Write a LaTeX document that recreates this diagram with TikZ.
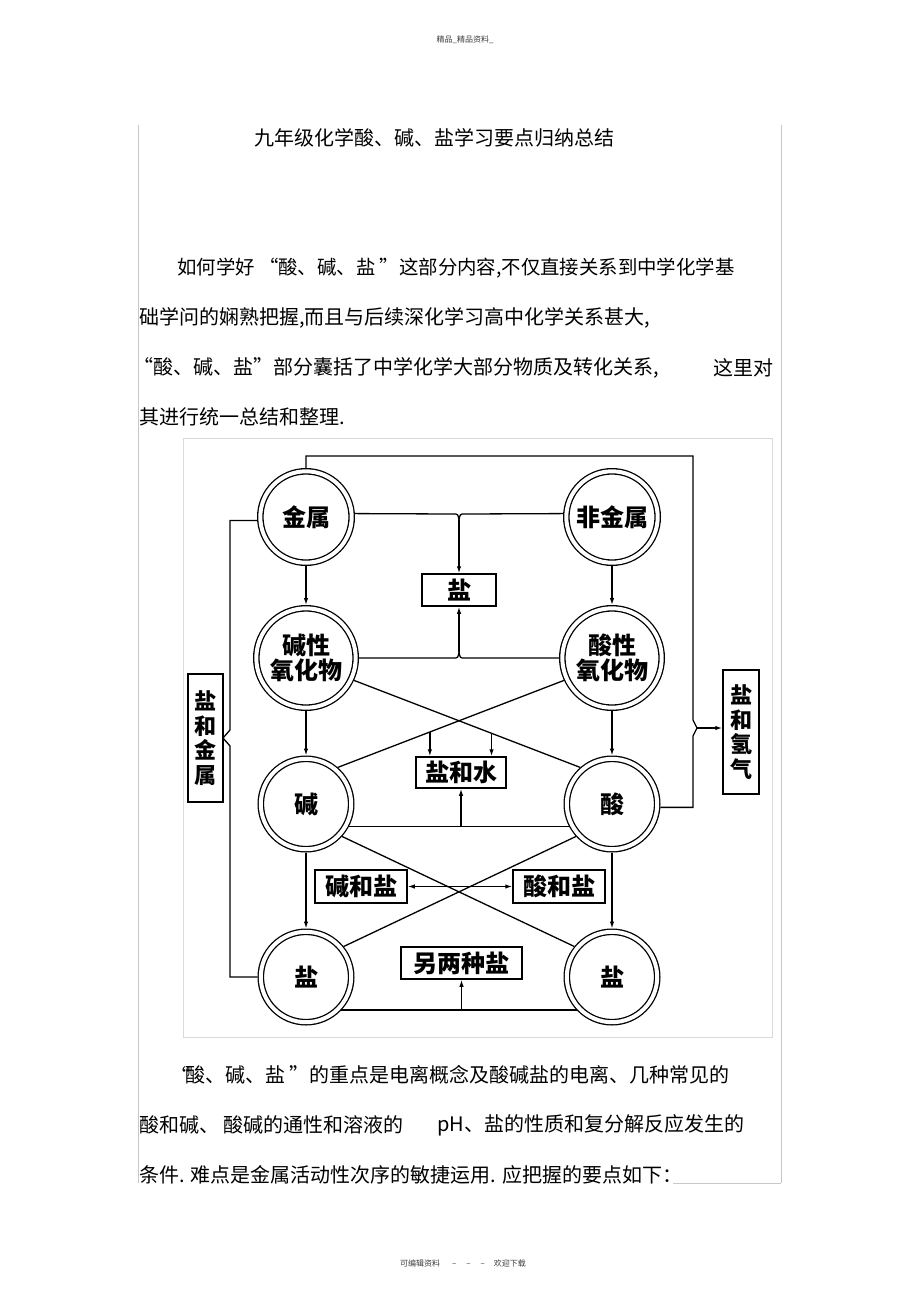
\documentclass[tikz,border=0pt]{standalone}
\usepackage{fontspec}
\setmainfont{Noto Sans CJK SC}
\usetikzlibrary{arrows.meta,calc}
\definecolor{pagegray}{RGB}{200,200,200}
\definecolor{framegray}{RGB}{218,218,218}
\definecolor{inkgray}{RGB}{60,60,60}

\begin{document}
\begin{tikzpicture}[x=1pt,y=-1pt,
      txt/.style={anchor=west,inner sep=0,font=\fontsize{20}{24}\selectfont},
      tiny/.style={inner sep=0,text=inkgray,font=\fontsize{8}{9}\selectfont},
      c/.style={circle,draw,double,double distance=4pt,line width=1.3pt,
        inner sep=0,outer sep=3.3pt,align=center,
        font=\fontsize{24}{25}\selectfont\bfseries},
      b/.style={draw,line width=1.5pt,inner sep=0,
        font=\fontsize{24}{25}\selectfont\bfseries},
      v/.style={b,align=center,font=\fontsize{22}{24.5}\selectfont\bfseries},
      l/.style={line width=1.3pt},
      a/.style={l,-{Latex[length=7pt,width=4.5pt]}},
      a2/.style={l,{Latex[length=7pt,width=4.5pt]}-{Latex[length=7pt,width=4.5pt]}}]
  \useasboundingbox (0,0) rectangle (920,1303);
  \fill[white] (0,0) rectangle (920,1303);
  \draw[pagegray,line width=.7pt] (138,125) -- (138,1183);
  \draw[pagegray,line width=.7pt] (781,125) -- (781,1183);
  \draw[pagegray,line width=.7pt] (673,1183) -- (781,1183);
  \draw[framegray,line width=.8pt] (183,438) rectangle (772,1037);
  \node[tiny] (head) at (465,40) {精品\_精品资料\_};
  \node[tiny] (foot) at (463,1263)
    {可编辑资料\hspace{12pt}–\hspace{10pt}–\hspace{10pt}–\hspace{9pt}欢迎下载};
  \node[txt] (title) at (254,138) {九年级化学酸、碱、盐学习要点归纳总结};
  \node[txt,font=\fontsize{19.4}{24}\selectfont] (p1) at (177,268)
    {如何学好 “酸、碱、盐 ”这部分内容,不仅直接关系到中学化学基};
  \node[txt] (p2) at (139,318) {础学问的娴熟把握,而且与后续深化学习高中化学关系甚大,};
  \node[txt] (p3) at (133,368) {“酸、碱、盐”部分囊括了中学化学大部分物质及转化关系,};
  \node[txt] (p3b) at (713,368) {这里对};
  \node[txt] (p4) at (139,417) {其进行统一总结和整理.};
  \node[txt] (q1) at (170,1075) {“};
  \node[txt] (q2) at (185,1075) {酸、碱、盐 ”的重点是电离概念及酸碱盐的电离、几种常见的};
  \node[txt] (q3) at (139,1125) {酸和碱、 酸碱的通性和溶液的};
  \node[txt] (q3b) at (437,1125) {pH、盐的性质和复分解反应发生的};
  \node[txt] (q4) at (139,1175) {条件. 难点是金属活动性次序的敏捷运用. 应把握的要点如下：};

  \node[c,minimum size=91.4pt] (metal) at (306,517) {金属};
  \node[c,minimum size=91.4pt] (nonmetal) at (612,517) {非金属};
  \node[c,minimum size=99.4pt] (boxide) at (306,658) {碱性\\氧化物};
  \node[c,minimum size=99.4pt] (aoxide) at (612,658) {酸性\\氧化物};
  \node[c,minimum size=90.4pt] (base) at (306,804) {碱};
  \node[c,minimum size=90.4pt] (acid) at (612,804) {酸};
  \node[c,minimum size=90.4pt] (saltl) at (306,977) {盐};
  \node[c,minimum size=90.4pt] (saltr) at (612,977) {盐};
  \node[b,minimum width=74pt,minimum height=32pt] (salt) at (459,590) {盐};
  \node[b,minimum width=90pt,minimum height=31pt] (sw) at (461,772.5) {盐和水};
  \node[b,minimum width=92pt,minimum height=33pt] (bsalt) at (361,886.5) {碱和盐};
  \node[b,minimum width=92pt,minimum height=33pt] (asalt) at (559,886.5) {酸和盐};
  \node[b,minimum width=121pt,minimum height=32pt] (osalt) at (461.5,963) {另两种盐};
  \node[v,minimum width=35pt,minimum height=128pt] (smetal) at (205.5,738) {盐\\和\\金\\属};
  \node[v,minimum width=36pt,minimum height=124pt] (shyd) at (741,732) {盐\\和\\氢\\气};

  \coordinate (tb) at (459,520);
  \coordinate (mb) at (459,652);
  \coordinate (rtop) at (693,456);
  \coordinate (rnub) at (697,728);
  \coordinate (lnub) at (223,738);

  \draw[a] (metal) -- (boxide);
  \draw[a] (nonmetal) -- (aoxide);
  \draw[a] (boxide) -- (base);
  \draw[a] (aoxide) -- (acid);
  \draw[a] (base) -- (saltl);
  \draw[a] (acid) -- (saltr);
  \draw[l] (metal.4) -- ($(tb)+(-6,-6)$) .. controls ($(tb)+(-1,-6)$) .. (tb)
    .. controls ($(tb)+(1,-6)$) .. ($(tb)+(6,-6)$) -- (nonmetal.176);
  \draw[a] (tb) -- (salt);
  \draw[l] (boxide.east) -- ($(mb)+(-6,6)$) .. controls ($(mb)+(-1,6)$) .. (mb)
    .. controls ($(mb)+(1,6)$) .. ($(mb)+(6,6)$) -- (aoxide.west);
  \draw[a] (mb) -- (salt);
  \draw[l] (boxide.-25) -- coordinate[pos=.608] (x2) (acid.131);
  \draw[l] (aoxide.-155) -- coordinate[pos=.593] (x1) (base.49);
  \draw[a] (x1) -- (x1 |- sw.north);
  \draw[a] (x2) -- (x2 |- sw.north);
  \draw[l] (base.-28) -- (acid.-152);
  \draw[a] (sw.south |- base.-28) -- (sw.south);
  \draw[l] (base.-42) -- (saltr.141);
  \draw[l] (acid.-138) -- (saltl.39);
  \draw[a2] (bsalt) -- (asalt);
  \draw[l] (saltl.-43) -- (saltr.-137);
  \draw[a] (osalt.south |- saltl.-43) -- (osalt);
  \draw[l] (metal.north) |- (rtop) -- ($(rnub)+(-4,-8)$) -- (rnub)
    -- ($(rnub)+(-4,8)$) |- (acid.-4);
  \draw[a] (rnub) -- (rnub -| shyd.west);
  \draw[l] (metal.184) -| ($(lnub)+(7,-8)$) -- (lnub) -- ($(lnub)+(7,8)$)
    |- (saltl.west);
\end{tikzpicture}
\end{document}
